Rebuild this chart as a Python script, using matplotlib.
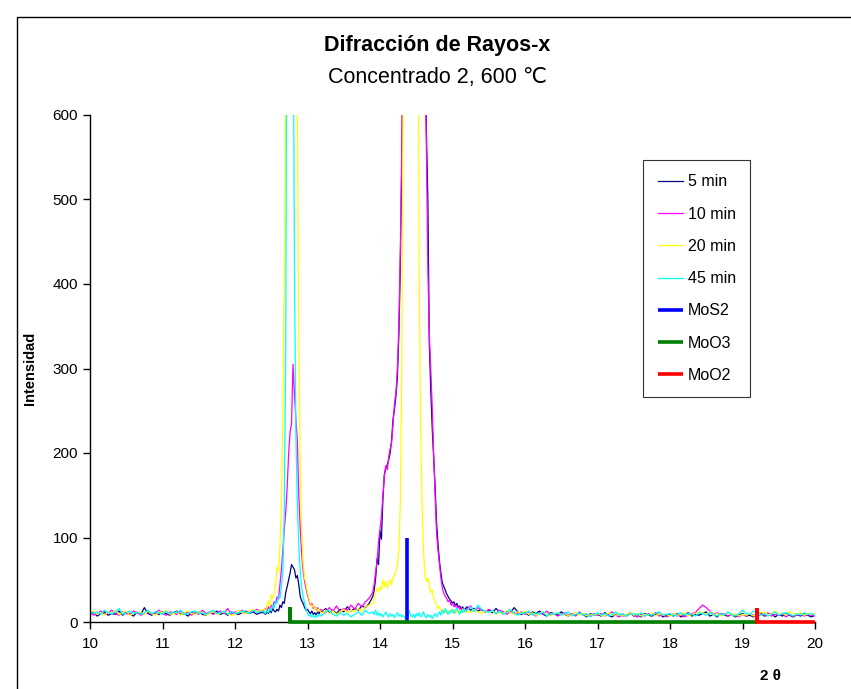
import matplotlib
matplotlib.use("Agg")
import matplotlib.pyplot as plt
import numpy as np
from matplotlib.lines import Line2D

plt.rcParams['font.family'] = ['Liberation Sans', 'DejaVu Sans']

# 2-theta sampling grid (coarse on the baseline, finer around the peaks)
theta_a = np.round(np.arange(10.00, 12.36, 0.05), 2)
theta_b = np.round(np.arange(12.40, 13.19, 0.02), 2)
theta_c = np.round(np.arange(13.20, 13.86, 0.05), 2)
theta_d = np.round(np.arange(13.90, 15.19, 0.02), 2)
theta_e = np.round(np.arange(15.20, 20.01, 0.05), 2)

# 5 min
min5_a = [9, 11, 7, 10, 12, 8, 10, 9, 13, 8, 11, 10, 7, 12, 9, 17, 10, 8, 11, 9, 12, 10, 8, 11,
          13, 9, 10, 7, 11, 10, 12, 9, 8, 11, 10, 13, 9, 11, 8, 12, 10, 9, 11, 13, 10, 12, 9, 11]
min5_b = [11, 9, 12, 10, 14, 11, 16, 13, 12, 15, 13, 20, 17, 24, 22, 35, 42, 50, 58, 68,
          65, 62, 52, 55, 44, 30, 25, 22, 17, 14, 15, 12, 10, 13, 9, 11, 8, 12, 10, 13]
min5_c = [12, 16, 11, 14, 10, 15, 12, 18, 13, 16, 14, 19, 17, 22]
min5_d = [30, 38, 52, 75, 68, 108, 98, 145, 175, 182, 186, 192, 200, 215, 240, 252, 268, 290,
          340, 420, 540, 680, 950, 1400, 2000, 2600, 3000, 3200, 3300, 3200, 3000, 2700, 2300,
          1800, 1300, 950, 700, 580, 500, 330, 275, 230, 195, 160, 118, 92, 72, 58, 46, 42, 38,
          33, 30, 27, 25, 22, 24, 19, 22, 17, 19, 15, 18, 14, 16]
min5_e = [18, 14, 16, 13, 15, 12,
          14, 11, 16, 12, 10, 13, 11, 17, 12, 9,
          11, 8, 12, 10, 13, 9, 7, 11, 10, 8,
          12, 9, 7, 10, 8, 11, 9, 6, 10, 8,
          9, 7, 11, 8, 6, 9, 10, 7, 8, 11,
          7, 9, 6, 10, 8, 7, 9, 11, 6, 8,
          9, 7, 10, 6, 8, 11, 7, 9, 8, 10,
          12, 7, 9, 6, 10, 8, 7, 9, 6, 8,
          10, 7, 8, 6, 9, 11, 7, 8, 10, 6,
          9, 7, 10, 8, 6, 9, 7, 10, 8, 6,
          8]

# 10 min
min10_a = [12, 8, 10, 13, 9, 11, 14, 10, 8, 12, 10, 9, 13, 11, 8, 10, 12, 9, 11, 14, 10, 8, 12, 11,
           9, 13, 10, 12, 8, 11, 9, 14, 10, 12, 9, 11, 13, 10, 16, 9, 12, 11, 14, 10, 13, 12, 15, 13]
min10_b = [13, 16, 12, 18, 15, 20, 17, 24, 22, 30, 27, 45, 62, 85, 110, 130, 160, 200, 225, 235,
           305, 270, 240, 215, 150, 110, 80, 60, 48, 40, 32, 26, 20, 22, 16, 18, 14, 17, 13, 15]
min10_c = [14, 11, 17, 13, 19, 12, 16, 14, 20, 15, 22, 18, 24, 28]
min10_d = [35, 45, 60, 72, 95, 110, 125, 150, 172, 185, 180, 195, 205, 212, 235, 258, 272, 300,
           350, 440, 560, 720, 1000, 1500, 2100, 2700, 3100, 3300, 3350, 3250, 3000, 2600, 2200,
           1700, 1200, 900, 680, 560, 420, 340, 300, 255, 200, 150, 105, 85, 68, 52, 40, 34, 30,
           28, 24, 26, 20, 22, 18, 20, 16, 19, 15, 17, 14, 16, 13]
min10_e = [16, 19, 13, 17, 14, 12,
           15, 13, 10, 14, 12, 9, 13, 11, 10, 12,
           9, 12, 10, 7, 11, 9, 13, 8, 10, 7,
           9, 11, 8, 10, 7, 12, 8, 9, 7, 10,
           8, 10, 7, 9, 12, 8, 6, 9, 7, 10,
           8, 6, 9, 7, 10, 8, 11, 7, 9, 6,
           8, 10, 7, 9, 6, 8, 10, 11, 16, 20,
           17, 13, 9, 11, 8, 10, 7, 9, 8, 6,
           9, 7, 10, 8, 6, 9, 8, 11, 7, 9,
           8, 10, 6, 9, 7, 8, 10, 7, 9, 8,
           7]

# 20 min
min20_a = [10, 13, 9, 11, 8, 12, 10, 14, 9, 11, 13, 8, 10, 12, 11, 9, 13, 10, 8, 12, 11, 14, 9, 10,
           12, 8, 11, 13, 10, 9, 12, 11, 8, 10, 13, 9, 11, 12, 10, 8, 9, 14, 11, 10, 13, 15, 12, 14]
min20_b = [15, 12, 20, 25, 18, 32, 28, 35, 45, 65, 60, 90, 140, 250, 420, 650, 1100, 1700, 2200,
           2400, 2100, 1500, 950, 600, 330, 180, 110, 70, 52, 45, 35, 28, 22, 18, 20, 15, 17, 13,
           15, 12]
min20_c = [11, 14, 10, 13, 9, 12, 15, 11, 14, 12, 16, 13, 18, 20]
min20_d = [22, 28, 35, 40, 36, 42, 38, 50, 42, 48, 40, 46, 50, 44, 52, 55, 60, 68, 85, 140,
           300, 650, 1000, 1500, 2000, 2500, 2900, 3100, 3000, 2500, 1700, 900, 420, 230, 140,
           85, 55, 48, 52, 42, 35, 38, 28, 25, 20, 16, 18, 13, 15, 12, 14, 10, 13, 11, 15, 12,
           14, 10, 13, 11, 14, 12, 15, 11, 13]
min20_e = [13, 11, 15, 12, 10, 14,
           11, 13, 9, 12, 10, 14, 11, 9, 12, 10,
           13, 9, 11, 8, 10, 12, 9, 7, 10, 11,
           8, 10, 7, 9, 11, 8, 10, 7, 9, 8,
           10, 8, 7, 11, 9, 8, 10, 7, 9, 11,
           8, 10, 7, 9, 8, 11, 7, 10, 8, 9,
           7, 10, 8, 9, 11, 7, 9, 10, 12, 11,
           9, 12, 8, 10, 7, 9, 11, 8, 10, 7,
           9, 8, 10, 7, 9, 11, 12, 8, 10, 13,
           9, 11, 8, 12, 10, 9, 11, 8, 10, 9,
           10]

# 45 min
min45_a = [13, 10, 12, 9, 14, 11, 10, 12, 16, 9, 11, 13, 10, 12, 9, 11, 14, 10, 12, 11, 9, 13, 10, 12,
           11, 14, 9, 10, 12, 13, 10, 11, 9, 12, 14, 10, 11, 13, 9, 12, 10, 11, 13, 12, 10, 14, 11, 13]
min45_b = [12, 10, 14, 11, 16, 13, 20, 17, 24, 22, 30, 28, 42, 60, 130, 330, 900, 1800, 2300,
           1600, 800, 420, 220, 140, 90, 60, 40, 30, 22, 15, 10, 7, 9, 6, 8, 5, 8, 6, 9, 7]
min45_c = [8, 12, 14, 9, 7, 11, 8, 10, 6, 9, 12, 8, 14, 10]
min45_d = [12, 9, 14, 8, 11, 7, 10, 6, 9, 12, 8, 6, 10, 7, 9, 5, 8, 11, 7, 9, 6, 8, 5, 7, 4,
           14, 8, 6, 9, 5, 10, 7, 11, 6, 8, 12, 7, 5, 9, 6, 8, 4, 7, 10, 6, 9, 12, 8, 14, 10,
           16, 12, 9, 13, 11, 15, 10, 13, 17, 12, 9, 14, 11, 16, 12]
min45_e = [14, 18, 12, 20, 15, 13,
           11, 14, 10, 13, 9, 12, 15, 10, 8, 11,
           10, 13, 8, 11, 9, 12, 7, 10, 9, 11,
           8, 10, 12, 7, 9, 11, 8, 10, 6, 9,
           11, 8, 10, 7, 9, 12, 8, 10, 7, 9,
           10, 8, 11, 7, 9, 8, 10, 12, 8, 9,
           10, 7, 9, 11, 8, 10, 9, 7, 11, 10,
           8, 11, 9, 7, 10, 8, 12, 9, 7, 10,
           14, 10, 9, 13, 11, 8, 10, 7, 9, 12,
           8, 10, 11, 9, 7, 10, 8, 11, 9, 10,
           8]

# reference patterns (stick positions / heights)
mos2_x = [14.37, 14.37]
mos2_y = [0, 100]
moo3_x = [12.76, 12.76, 12.76, 19.20]
moo3_y = [0, 18, 0, 0]
moo2_x = [19.20, 19.20, 19.20, 20.00]
moo2_y = [0, 17, 0, 0]

theta = np.concatenate([theta_a, theta_b, theta_c, theta_d, theta_e])
series = [
    ("5 min", min5_a + min5_b + min5_c + min5_d + min5_e, "#000080"),
    ("10 min", min10_a + min10_b + min10_c + min10_d + min10_e, "#FF00FF"),
    ("20 min", min20_a + min20_b + min20_c + min20_d + min20_e, "#FFFF00"),
    ("45 min", min45_a + min45_b + min45_c + min45_d + min45_e, "#00FFFF"),
]
for name, vals, col in series:
    assert len(vals) == len(theta), (name, len(vals), len(theta))

fig = plt.figure(figsize=(8.51, 6.89), dpi=100)
ax = fig.add_axes([90 / 851, 1 - 622 / 689, 725 / 851, 507 / 689])

for name, vals, col in series:
    ax.plot(theta, vals, color=col, lw=0.9, label=name)
stick_kw = dict(lw=2.6, solid_capstyle="butt", solid_joinstyle="miter", clip_on=False, zorder=4)
ax.plot(mos2_x, mos2_y, color="#0000FF", label="MoS2", **stick_kw)
ax.plot(moo3_x, moo3_y, color="#008000", label="MoO3", **stick_kw)
ax.plot(moo2_x, moo2_y, color="#FF0000", label="MoO2", **stick_kw)

ax.set_xlim(10, 20)
ax.set_ylim(0, 600)
ax.set_xticks(range(10, 21))
ax.set_yticks(range(0, 601, 100))
ax.tick_params(direction="out", length=5, width=1, labelsize=11, color="black")
ax.tick_params(axis="x", pad=6)
for s in ["top", "right"]:
    ax.spines[s].set_visible(False)
for s in ["left", "bottom"]:
    ax.spines[s].set_linewidth(1)
    ax.spines[s].set_color("black")

leg = ax.legend(loc="upper left", bbox_to_anchor=(0.763, 0.911), fontsize=11.5,
                frameon=True, fancybox=False, edgecolor="black", handlelength=1.6,
                labelspacing=1.08, borderpad=0.9, handletextpad=0.3, borderaxespad=0)
leg.get_frame().set_linewidth(0.8)
leg.set_zorder(5)

fig.text(437 / 851, 1 - 45 / 689, "Difracción de Rayos-x", ha="center", va="center",
         fontsize=15.5, fontweight="bold")
fig.text(437 / 851, 1 - 78 / 689, "Concentrado 2, 600 ℃", ha="center", va="center",
         fontsize=15.5)
fig.text(30 / 851, 1 - 368 / 689, "Intensidad", rotation=90, ha="center", va="center",
         fontsize=10.5, fontweight="bold")
fig.text(770 / 851, 1 - 676 / 689, "2 θ", ha="center", va="center",
         fontsize=11, fontweight="bold")

# outer chart border (top and left edges visible)
fig.add_artist(Line2D([17 / 851, 17 / 851, 1.0], [0.0, 1 - 17 / 689, 1 - 17 / 689],
                      transform=fig.transFigure, color="black", lw=1))

fig.savefig("out.png", dpi=100)
